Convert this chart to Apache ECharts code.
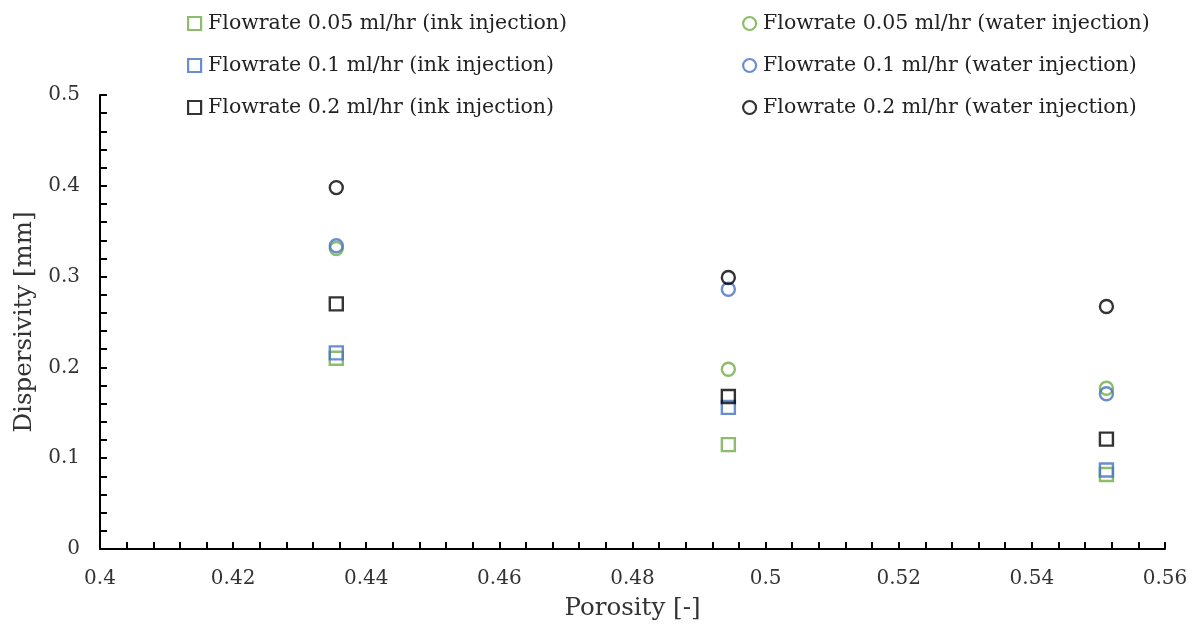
<!DOCTYPE html>
<html>
<head>
<meta charset="utf-8">
<script src="https://cdn.jsdelivr.net/npm/echarts@6/dist/echarts.min.js"></script>
<style>html,body{margin:0;padding:0;background:#fff;overflow:hidden}#c{width:1194px;height:626px}</style>
</head>
<body>
<div id="c"></div>
<script>
const porosity = [0.4355, 0.4944, 0.5512];
const seriesNames = [
  'Flowrate 0.05 ml/hr (ink injection)',
  'Flowrate 0.1 ml/hr (ink injection)',
  'Flowrate 0.2 ml/hr (ink injection)',
  'Flowrate 0.05 ml/hr (water injection)',
  'Flowrate 0.1 ml/hr (water injection)',
  'Flowrate 0.2 ml/hr (water injection)'
];
const ink005 = [0.210, 0.115, 0.082];
const ink01 = [0.216, 0.156, 0.087];
const ink02 = [0.270, 0.168, 0.121];
const water005 = [0.331, 0.198, 0.177];
const water01 = [0.334, 0.286, 0.171];
const water02 = [0.398, 0.299, 0.267];
const xTicks = { min: 0.4, max: 0.56, interval: 0.02 };
const yTicks = { min: 0, max: 0.5, interval: 0.1 };

const values = [ink005, ink01, ink02, water005, water01, water02];
const colors = ['#70AD47', '#4472C4', '#000000', '#70AD47', '#4472C4', '#000000'];
const symbols = ['rect', 'rect', 'rect', 'circle', 'circle', 'circle'];
const FONT = 'DejaVu Serif';

const series = values.map((vals, i) => ({
  name: seriesNames[i],
  type: 'scatter',
  symbol: symbols[i],
  symbolSize: 13,
  itemStyle: { color: 'rgba(255,255,255,0)', borderColor: colors[i], borderWidth: 2.4 },
  emphasis: { disabled: true },
  data: vals.map((v, j) => [porosity[j], v])
}));

function legendFor(idx, left) {
  return {
    orient: 'vertical',
    left: left,
    top: 8,
    itemGap: 21,
    itemWidth: 13,
    itemHeight: 13,
    textStyle: { fontFamily: FONT, fontSize: 20.5, color: '#222', padding: [0, 0, 0, 2] },
    data: idx.map(i => ({
      name: seriesNames[i],
      icon: symbols[i],
      itemStyle: { color: 'rgba(255,255,255,0)', borderColor: colors[i], borderWidth: 2.2 }
    }))
  };
}

const axisCommon = {
  axisLine: { show: true, lineStyle: { color: '#000', width: 2 } },
  axisTick: { show: true, inside: true, length: 7, lineStyle: { color: '#000', width: 2 } },
  minorTick: { show: true, splitNumber: 5, length: 7, lineStyle: { color: '#000', width: 2 } },
  splitLine: { show: false },
  axisLabel: { fontFamily: FONT, fontSize: 20, color: '#333' },
  nameTextStyle: { fontFamily: FONT, fontSize: 24.5, color: '#333' }
};

const chart = echarts.init(document.getElementById('c'));
chart.setOption({
  animation: false,
  legend: [legendFor([0, 1, 2], 182), legendFor([3, 4, 5], 737)],
  grid: { left: 100, right: 29, top: 95, bottom: 70 },
  xAxis: Object.assign({}, axisCommon, {
    type: 'value', min: xTicks.min, max: xTicks.max, interval: xTicks.interval,
    name: 'Porosity [-]', nameLocation: 'middle', nameGap: 47,
    axisLabel: Object.assign({}, axisCommon.axisLabel, { margin: 20, formatter: v => String(+v.toFixed(2)) })
  }),
  yAxis: Object.assign({}, axisCommon, {
    type: 'value', min: yTicks.min, max: yTicks.max, interval: yTicks.interval,
    name: 'Dispersivity [mm]', nameLocation: 'middle', nameGap: 60,
    axisLabel: Object.assign({}, axisCommon.axisLabel, { margin: 20, formatter: v => String(+v.toFixed(1)) })
  }),
  series: series
});
</script>
</body>
</html>
